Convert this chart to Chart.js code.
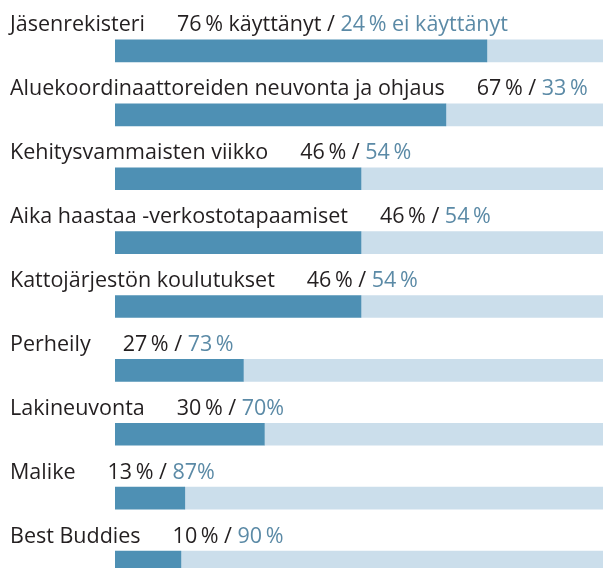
<!DOCTYPE html>
<html lang="fi">
<head>
  <meta charset="UTF-8">
  <title>Palveluiden käyttö</title>
  <script src="https://cdn.jsdelivr.net/npm/chart.js"></script>
  <style>
    html, body { margin: 0; padding: 0; background: #fff; overflow: hidden; }
    #wrap { width: 603px; height: 600px; }
  </style>
</head>
<body>
  <div id="wrap"><canvas id="chart" width="603" height="600"></canvas></div>
  <script>
    // categories and the printed percentages
    const categories = [
      'Jäsenrekisteri',
      'Aluekoordinaattoreiden neuvonta ja ohjaus',
      'Kehitysvammaisten viikko',
      'Aika haastaa -verkostotapaamiset',
      'Kattojärjestön koulutukset',
      'Perheily',
      'Lakineuvonta',
      'Malike',
      'Best Buddies'
    ];
    const usedLabels = ['76\u2009% käyttänyt', '67\u2009%', '46\u2009%', '46\u2009%', '46\u2009%', '27\u2009%', '30\u2009%', '13\u2009%', '10\u2009%'];
    const notUsedLabels = ['24\u2009% ei käyttänyt', '33\u2009%', '54\u2009%', '54\u2009%', '54\u2009%', '73\u2009%', '70%', '87%', '90\u2009%'];

    // bar lengths as drawn in the picture
    const used = [76.2, 67.8, 50.4, 50.4, 50.4, 26.3, 30.6, 14.3, 13.5];
    const notUsed = [23.8, 32.2, 49.6, 49.6, 49.6, 73.7, 69.4, 85.7, 86.5];

    const DARK = '#4e90b4';
    const LIGHT = '#cbdeeb';
    const TEXT = '#231f20';
    const BLUE_TEXT = '#5b8aa6';
    const FONT = '21.5px "Open Sans", sans-serif';

    const labelPlugin = {
      id: 'rowLabels',
      afterDraw(chart) {
        const ctx = chart.ctx;
        const bars = chart.getDatasetMeta(0).data;
        ctx.save();
        ctx.font = FONT;
        ctx.textBaseline = 'alphabetic';
        ctx.textAlign = 'left';
        bars.forEach((bar, i) => {
          const top = bar.y - bar.height / 2;
          const y = top - 8.5;
          let x = 10;
          ctx.fillStyle = TEXT;
          ctx.fillText(categories[i], x, y);
          x += ctx.measureText(categories[i]).width + 32;
          const a = usedLabels[i] + ' / ';
          ctx.fillText(a, x, y);
          x += ctx.measureText(a).width;
          ctx.fillStyle = BLUE_TEXT;
          ctx.fillText(notUsedLabels[i], x, y);
        });
        ctx.restore();
      }
    };

    new Chart(document.getElementById('chart'), {
      type: 'bar',
      data: {
        labels: categories,
        datasets: [
          { data: used, backgroundColor: DARK, barThickness: 22, borderWidth: 0 },
          { data: notUsed, backgroundColor: LIGHT, barThickness: 22, borderWidth: 0 }
        ]
      },
      options: {
        indexAxis: 'y',
        responsive: false,
        animation: false,
        layout: { padding: { left: 115, right: 0, top: 19, bottom: 6 } },
        scales: {
          x: { stacked: true, min: 0, max: 100, display: false },
          y: { stacked: true, display: false }
        },
        plugins: { legend: { display: false }, tooltip: { enabled: false } }
      },
      plugins: [labelPlugin]
    });
  </script>
</body>
</html>
